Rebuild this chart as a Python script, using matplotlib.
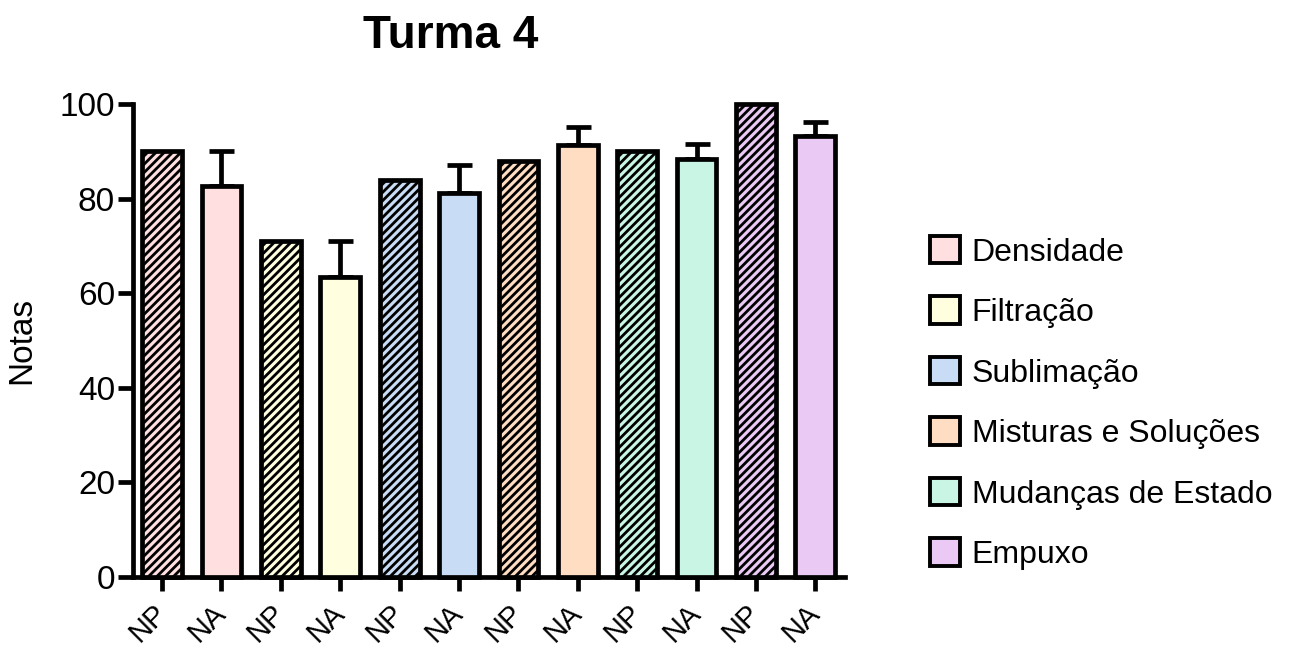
import matplotlib
matplotlib.use('Agg')
import matplotlib.pyplot as plt
from matplotlib.patches import Patch

plt.rcParams['font.family'] = ['Liberation Sans', 'DejaVu Sans']
plt.rcParams['hatch.linewidth'] = 2.0

title = 'Turma 4'
ylabel = 'Notas'
topics = ['Densidade', 'Filtração', 'Sublimação', 'Misturas e Soluções',
          'Mudanças de Estado', 'Empuxo']
topic_colors = ['#FFDFDF', '#FFFFE0', '#C8DCF5', '#FFDDC2', '#C9F5E4', '#EAC9F5']
groups = ['NP', 'NA']
np_means = [90.0, 71.0, 84.0, 88.0, 90.0, 100.0]
na_means = [82.6, 63.4, 81.2, 91.4, 88.4, 93.3]
na_errs = [7.4, 7.6, 5.9, 3.7, 3.2, 2.9]
yticks = [0, 20, 40, 60, 80, 100]

fig = plt.figure(figsize=(12.91, 6.49), dpi=100)
ax = fig.add_axes([133/1291, 1-577/649, (845-133)/1291, (577-104)/649])

lw = 3.4
x = 0
xpos, xlabels = [], []
for i, t in enumerate(topics):
    # NP bar (hatched)
    ax.bar(x, np_means[i], width=0.67, color=topic_colors[i], edgecolor='black',
           linewidth=lw, hatch='////', clip_on=False, zorder=3)
    xpos.append(x); xlabels.append(groups[0])
    x += 1
    # NA bar with upper error bar
    ax.errorbar(x, na_means[i], yerr=[[0], [na_errs[i]]], fmt='none', ecolor='black',
                elinewidth=lw, capsize=9, capthick=lw, zorder=2, clip_on=False)
    ax.bar(x, na_means[i], width=0.67, color=topic_colors[i], edgecolor='black',
           linewidth=lw, clip_on=False, zorder=3)
    xpos.append(x); xlabels.append(groups[1])
    x += 1

ax.set_xlim(-0.49, len(xpos) - 0.5)
ax.set_ylim(0, 100)
ax.set_yticks(yticks)
ax.set_xticks(xpos)
ax.set_xticklabels(xlabels, rotation=45, ha='right', va='center',
                   rotation_mode='anchor', fontsize=21)
ax.tick_params(axis='y', labelsize=24, length=11, width=lw, pad=2)
ax.tick_params(axis='x', length=10, width=lw, pad=13)
for s in ['top', 'right']:
    ax.spines[s].set_visible(False)
for s in ['left', 'bottom']:
    ax.spines[s].set_linewidth(lw)
ax.set_ylabel(ylabel, fontsize=24)
ax.yaxis.set_label_coords(-0.135, 0.5)

fig.text(451/1291, 1-36/649, title, fontsize=33, fontweight='bold',
         ha='center', va='center')

handles = [Patch(facecolor=c, edgecolor='black', linewidth=2.8) for c in topic_colors]
fig.legend(handles, topics, loc='center left', bbox_to_anchor=(930/1291, 1-403/649),
           frameon=False, fontsize=23, handlelength=0.95, handleheight=0.95,
           handletextpad=0.35, labelspacing=0.9, borderpad=0, borderaxespad=0)

fig.savefig('out.png', dpi=100)
